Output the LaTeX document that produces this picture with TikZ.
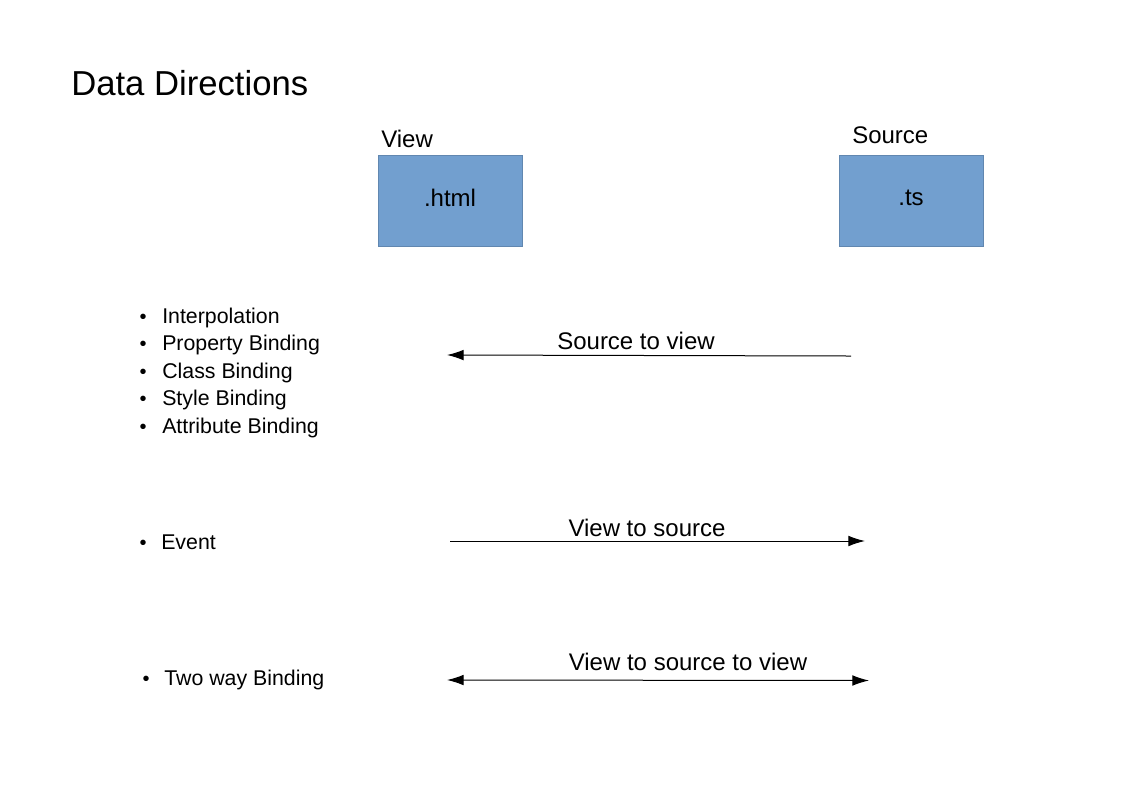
\documentclass[tikz,border=0pt]{standalone}
\usepackage{fontspec}
\setmainfont{Liberation Sans}
\usetikzlibrary{arrows.meta}
\definecolor{boxblue}{HTML}{729FCF}
\tikzset{
  >={Latex[length=12.5pt,width=8pt]},
  filebox/.style = {fill=boxblue, draw=boxblue!85!black, line width=0.5pt,
                    minimum width=108pt, minimum height=68pt, inner sep=0pt},
  filename/.style = {inner sep=0pt, font=\fontsize{18}{21}\selectfont},
  caption/.style = {anchor=base west, inner sep=0pt, font=\fontsize{18}{21}\selectfont},
  item/.style    = {anchor=base west, inner sep=0pt, font=\fontsize{16}{19}\selectfont},
  dot/.style     = {anchor=base, inner sep=0pt, font=\fontsize{15}{18}\selectfont},
  flow/.style    = {anchor=base, inner sep=0pt, font=\fontsize{18}{21}\selectfont},
  arrow/.style   = {line width=0.75pt, ->},
}
\begin{document}
\begin{tikzpicture}[x=0.75pt, y=-0.75pt]
  \useasboundingbox (0,0) rectangle (1123,794);
  % title
  \node[anchor=base west, inner sep=0pt, font=\fontsize{26}{30}\selectfont](title)at(71, 95){Data Directions};
  % view and source
  \node[caption](viewlbl)at(381, 147.5){View};
  \node[caption](srclbl)at(852, 143.5){Source};
  \node[filebox](html)at(450, 200.5){};
  \node[filebox](ts)at(911, 200.5){};
  \node[filename](htmltxt)at(450, 198){.html};
  \node[filename](tstxt)at(911, 198){.ts};
  % bullet lists
  \node[dot](d1)at(143, 323){•};
  \node[item](i1)at(162, 323){Interpolation};
  \node[dot](d2)at(143, 350.5){•};
  \node[item](i2)at(162, 350.5){Property Binding};
  \node[dot](d3)at(143, 378){•};
  \node[item](i3)at(162, 378){Class Binding};
  \node[dot](d4)at(143, 405.5){•};
  \node[item](i4)at(162, 405.5){Style Binding};
  \node[dot](d5)at(143, 433){•};
  \node[item](i5)at(162, 433){Attribute Binding};
  \node[dot](d6)at(143, 549.5){•};
  \node[item](i6)at(161, 549.5){Event};
  \node[dot](d7)at(146, 685.5){•};
  \node[item](i7)at(164, 685.5){Two way Binding};
  % directions
  \coordinate(s1)at(851, 356);
  \coordinate(v1)at(447, 355);
  \draw[arrow](s1)--(v1);
  \node[flow](f1)at(636, 349.5){Source to view};
  \coordinate(v2)at(450, 541);
  \coordinate(s2)at(865, 541);
  \draw[arrow](v2)--(s2);
  \node[flow](f2)at(647, 536.5){View to source};
  \coordinate(v3)at(447, 680);
  \coordinate(s3)at(869, 680.5);
  \draw[arrow, <->](v3)--(s3);
  \node[flow](f3)at(688, 670.5){View to source to view};
\end{tikzpicture}
\end{document}
